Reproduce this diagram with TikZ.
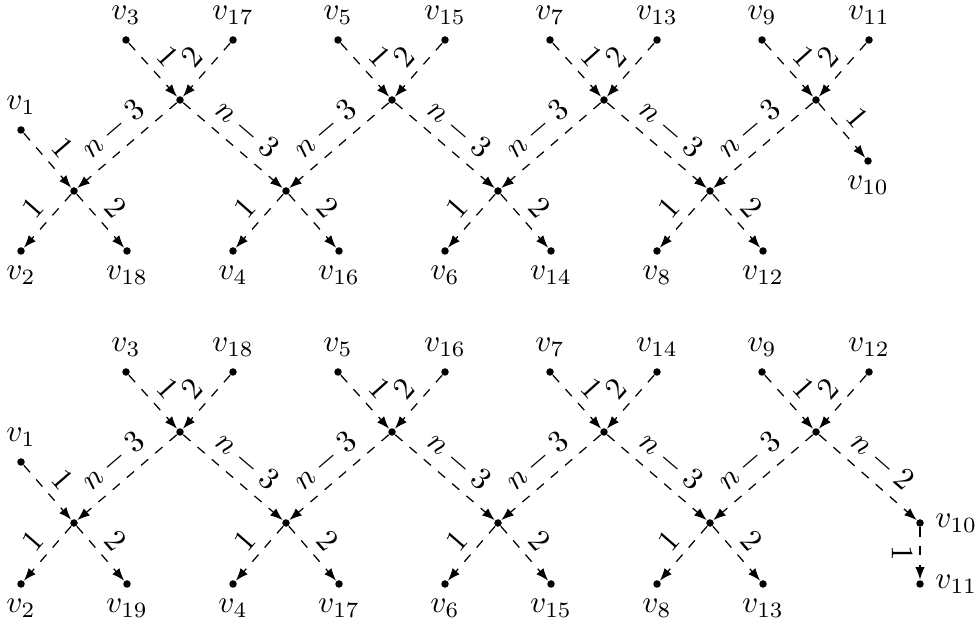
\documentclass[tikz,border=0pt]{standalone}
\usetikzlibrary{arrows.meta}
\begin{document}
\begin{tikzpicture}[x=0.32pt,y=-0.32pt,
  dot/.style={circle,fill,inner sep=0pt,minimum size=2.4pt},
  arr/.style={dashed,-{Latex[length=4pt,width=3pt]}},
  lab/.style={sloped,above,midway,inner sep=2.9pt}]
\useasboundingbox (0,0) rectangle (978,628);
% ---------- top graph ----------
\node[dot,label=above:$v_{1}$] (tv1) at (21,130) {};
\foreach \i/\a/\b/\c/\d in {1/3/17/2/18, 2/5/15/4/16, 3/7/13/6/14, 4/9/11/8/12}{
  \node[dot,label=above:$v_{\a}$] (tA\i) at ({180+212*(\i-1)-54},40) {};
  \node[dot,label=above:$v_{\b}$] (tB\i) at ({180+212*(\i-1)+53},40) {};
  \node[dot] (tU\i) at ({180+212*(\i-1)},100) {};
  \node[dot] (tL\i) at ({74+212*(\i-1)},191) {};
  \node[dot,label=below:$v_{\c}$] (tC\i) at ({74+212*(\i-1)-53},251) {};
  \node[dot,label=below:$v_{\d}$] (tD\i) at ({74+212*(\i-1)+53},251) {};
  \draw[arr] (tA\i) -- node[lab]{$1$} (tU\i);
  \draw[arr] (tB\i) -- node[lab]{$2$} (tU\i);
  \draw[arr] (tU\i) -- node[lab]{$n-3$} (tL\i);
  \draw[arr] (tL\i) -- node[lab]{$1$} (tC\i);
  \draw[arr] (tL\i) -- node[lab]{$2$} (tD\i);
}
\draw[arr] (tv1) -- node[lab]{$1$} (tL1);
\foreach \i/\j in {1/2, 2/3, 3/4}{
  \draw[arr] (tU\i) -- node[lab]{$n-3$} (tL\j);
}
\node[dot,label=below:$v_{10}$] (tv10) at (868,161) {};
\draw[arr] (tU4) -- node[lab]{$1$} (tv10);
% ---------- bottom graph ----------
\node[dot,label=above:$v_{1}$] (bv1) at (21,462) {};
\foreach \i/\a/\b/\c/\d in {1/3/18/2/19, 2/5/16/4/17, 3/7/14/6/15, 4/9/12/8/13}{
  \node[dot,label=above:$v_{\a}$] (bA\i) at ({180+212*(\i-1)-54},372) {};
  \node[dot,label=above:$v_{\b}$] (bB\i) at ({180+212*(\i-1)+53},372) {};
  \node[dot] (bU\i) at ({180+212*(\i-1)},432) {};
  \node[dot] (bL\i) at ({74+212*(\i-1)},523) {};
  \node[dot,label=below:$v_{\c}$] (bC\i) at ({74+212*(\i-1)-53},584) {};
  \node[dot,label=below:$v_{\d}$] (bD\i) at ({74+212*(\i-1)+53},584) {};
  \draw[arr] (bA\i) -- node[lab]{$1$} (bU\i);
  \draw[arr] (bB\i) -- node[lab]{$2$} (bU\i);
  \draw[arr] (bU\i) -- node[lab]{$n-3$} (bL\i);
  \draw[arr] (bL\i) -- node[lab]{$1$} (bC\i);
  \draw[arr] (bL\i) -- node[lab]{$2$} (bD\i);
}
\draw[arr] (bv1) -- node[lab]{$1$} (bL1);
\foreach \i/\j in {1/2, 2/3, 3/4}{
  \draw[arr] (bU\i) -- node[lab]{$n-3$} (bL\j);
}
\node[dot,label=right:$v_{10}$] (bv10) at (920,523) {};
\node[dot,label=right:$v_{11}$] (bv11) at (920,584) {};
\draw[arr] (bU4) -- node[lab]{$n-2$} (bv10);
\draw[arr] (bv10) -- node[midway,xshift=-5.8pt,rotate=-90,inner sep=0pt]{$1$} (bv11);
\end{tikzpicture}
\end{document}
